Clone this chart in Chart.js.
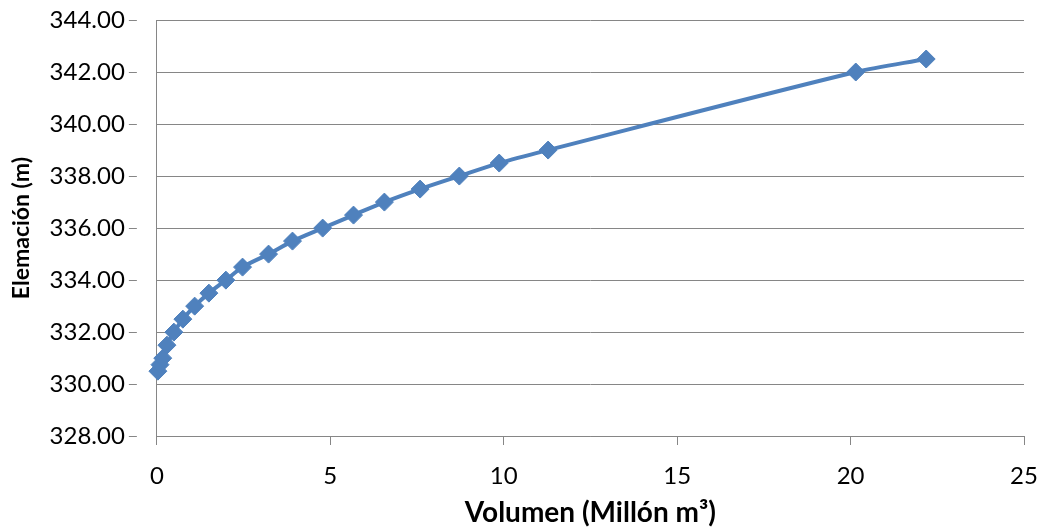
<!DOCTYPE html>
<html>
<head>
<meta charset="utf-8">
<script src="https://cdn.jsdelivr.net/npm/chart.js@4/dist/chart.umd.min.js"></script>
<style>
    html, body { margin: 0; padding: 0; background: #fff; }
    #wrap { width: 1039px; height: 527px; }
</style>
</head>
<body>
<div id="wrap"><canvas id="chart"></canvas></div>
<script>
const volumen = [0.03, 0.09, 0.17, 0.29, 0.49, 0.75, 1.09, 1.50, 1.99, 2.47, 3.22, 3.91, 4.78, 5.67, 6.56, 7.59, 8.72, 9.87, 11.28, 20.15, 22.18];
const elevacion = [330.5, 330.75, 331.0, 331.5, 332.0, 332.5, 333.0, 333.5, 334.0, 334.5, 335.0, 335.5, 336.0, 336.5, 337.0, 337.5, 338.0, 338.5, 339.0, 342.0, 342.5];

const gridColor = "#868686";
const fontFamily = "Lato, 'Open Sans', sans-serif";

function initChart() {
    const ctx = document.getElementById("chart").getContext("2d");
    new Chart(ctx, {
        type: "line",
        data: {
            datasets: [{
                data: volumen.map((v, i) => ({ x: v, y: elevacion[i] })),
                borderColor: "#4F81BD",
                backgroundColor: "#4F81BD",
                borderWidth: 4,
                tension: 0.3,
                pointStyle: "rectRot",
                pointRadius: 9,
                pointBorderWidth: 1,
                clip: false,
                fill: false
            }]
        },
        options: {
            responsive: true,
            maintainAspectRatio: false,
            animation: false,
            layout: { autoPadding: false, padding: { left: 8, right: 15, top: 20, bottom: 0 } },
            plugins: {
                legend: { display: false },
                tooltip: { enabled: false }
            },
            scales: {
                x: {
                    type: "linear",
                    min: 0,
                    max: 25,
                    ticks: { stepSize: 5, color: "#000", font: { family: fontFamily, size: 24 }, padding: 0 },
                    // long tick slot for label spacing, only 8px of it drawn
                    grid: { drawOnChartArea: false, color: gridColor, tickLength: 26, tickBorderDash: [8, 60] },
                    border: { color: gridColor, width: 1 },
                    title: { display: true, text: "Volumen (Millón m³)", color: "#000", font: { family: fontFamily, size: 28, weight: "bold", lineHeight: 1 }, padding: { top: 8, bottom: 0 } }
                },
                y: {
                    min: 328,
                    max: 344,
                    ticks: { stepSize: 2, color: "#000", font: { family: fontFamily, size: 24 }, padding: 4, callback: v => v.toFixed(2) },
                    grid: { color: gridColor, tickLength: 28, tickBorderDash: [8, 60] },
                    border: { color: gridColor, width: 1 },
                    title: { display: true, text: "Elemación (m)", color: "#000", font: { family: fontFamily, size: 23, weight: "bold" }, padding: { top: 0, bottom: 10 } }
                }
            }
        }
    });
}

document.addEventListener("DOMContentLoaded", initChart);
</script>
</body>
</html>
